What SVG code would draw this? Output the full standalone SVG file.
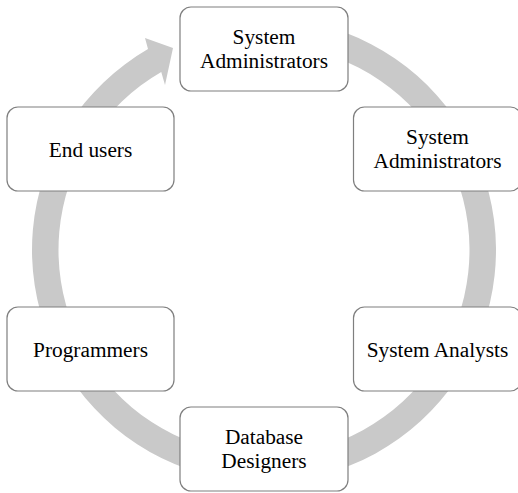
<svg xmlns="http://www.w3.org/2000/svg" width="518" height="493" viewBox="0 0 518 493">
<style>
.node rect{fill:#ffffff;stroke:#7f7f7f;stroke-width:1.2}
.node text{font-family:"Liberation Serif","Times New Roman",serif;font-size:21.33px;fill:#000;text-anchor:middle}
.ring{fill:#c9c9c9;stroke:none}
</style>
<rect width="518" height="493" fill="#ffffff"/>
<g id="connectors">
<path class="ring" d="M264,18 A232,232 0 1 1 148,49.08 L145,38 L173,48 L165,85 L161.25,72.03 A205.5,205.5 0 1 0 264,44.5 Z"/>
</g>
<g id="node-top" class="node">
<rect x="180" y="7" width="168" height="84" rx="11"/>
<text><tspan x="264" y="44.4">System</tspan><tspan x="264" y="68.2">Administrators</tspan></text>
</g>
<g id="node-upper-right" class="node">
<rect x="353.5" y="107" width="168" height="84" rx="11"/>
<text><tspan x="437.5" y="143.9">System</tspan><tspan x="437.5" y="167.7">Administrators</tspan></text>
</g>
<g id="node-lower-right" class="node">
<rect x="353.5" y="307" width="168" height="84" rx="11"/>
<text x="437.5" y="356.5">System Analysts</text>
</g>
<g id="node-bottom" class="node">
<rect x="180" y="407" width="168" height="84" rx="11"/>
<text><tspan x="264" y="444.4">Database</tspan><tspan x="264" y="468.2">Designers</tspan></text>
</g>
<g id="node-lower-left" class="node">
<rect x="7" y="307" width="167" height="84" rx="11"/>
<text x="90.5" y="356.5">Programmers</text>
</g>
<g id="node-upper-left" class="node">
<rect x="7" y="107" width="167" height="84" rx="11"/>
<text x="90.5" y="156.5">End users</text>
</g>
</svg>
